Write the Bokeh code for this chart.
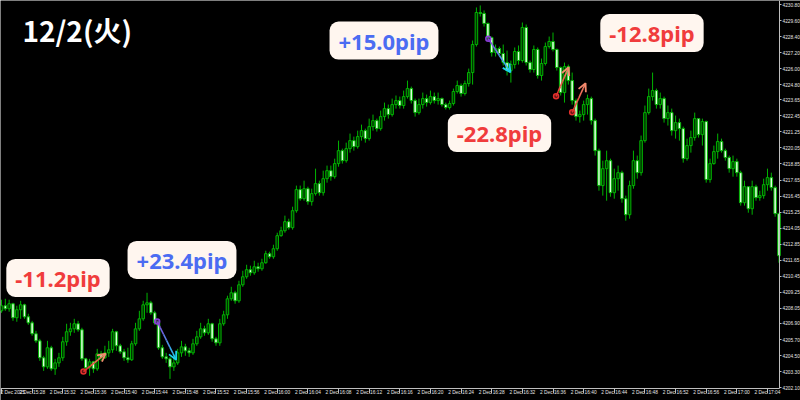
import numpy as np
from bokeh.plotting import figure
from bokeh.models import (ColumnDataSource, FixedTicker, Label, Arrow, OpenHead,
                          Range1d, PrintfTickFormatter, LinearAxis)
from bokeh.embed import file_html
from bokeh.resources import INLINE

# ---------------- data (30-second candles, 2 Dec 2025 15:24 - 17:05) ----------------
first_open = 4207.85
close = [4208.23, 4208.00, 4208.38, 4207.33, 4207.93, 4208.30, 4207.40, 4206.95, 4206.13, 4205.60,
         4204.33, 4203.65, 4205.08, 4203.50, 4203.95, 4204.33, 4205.53, 4206.28, 4206.50, 4206.88,
         4206.43, 4204.25, 4203.58, 4204.03, 4203.50, 4204.63, 4204.33, 4204.70, 4204.93, 4206.28,
         4205.23, 4204.78, 4204.33, 4204.18, 4205.38, 4206.50, 4207.25, 4208.30, 4208.45, 4207.70,
         4206.95, 4205.08, 4204.40, 4204.25, 4203.65, 4203.95, 4204.70, 4205.15, 4204.85, 4204.70,
         4205.38, 4205.90, 4206.50, 4206.20, 4206.88, 4205.75, 4205.45, 4206.88, 4207.55, 4208.75,
         4209.20, 4208.60, 4209.80, 4210.40, 4210.93, 4210.70, 4211.15, 4211.00, 4211.45, 4212.13,
         4211.90, 4212.50, 4213.48, 4213.85, 4214.53, 4214.08, 4215.35, 4216.93, 4216.25, 4217.00,
         4216.03, 4216.63, 4217.38, 4216.70, 4217.75, 4218.35, 4217.90, 4218.88, 4219.85, 4219.10,
         4220.00, 4220.60, 4220.15, 4220.90, 4221.35, 4220.75, 4221.65, 4222.10, 4221.50, 4222.40,
         4223.00, 4222.55, 4223.30, 4223.60, 4223.23, 4223.90, 4224.50, 4223.60, 4222.70, 4223.30,
         4223.75, 4223.45, 4223.90, 4223.60, 4223.75, 4223.30, 4223.08, 4223.38, 4224.28, 4224.73,
         4224.13, 4224.88, 4225.70, 4227.80, 4230.20, 4230.13, 4229.38, 4228.33, 4227.20, 4227.50,
         4227.13, 4226.45, 4225.85, 4226.30, 4227.28, 4226.60, 4229.08, 4226.45, 4225.93, 4227.43,
         4225.48, 4226.38, 4227.65, 4228.03, 4227.43, 4226.08, 4224.20, 4226.15, 4225.10, 4223.60,
         4222.40, 4222.55, 4223.30, 4223.75, 4222.10, 4219.85, 4217.23, 4218.50, 4219.10, 4216.70,
         4217.75, 4218.20, 4216.25, 4215.05, 4217.23, 4219.10, 4218.20, 4220.60, 4222.70, 4223.90,
         4224.35, 4223.30, 4223.75, 4222.25, 4222.70, 4221.35, 4221.95, 4221.50, 4219.25, 4220.23,
         4220.83, 4222.25, 4221.05, 4222.03, 4217.68, 4218.88, 4219.78, 4220.53, 4219.85, 4219.33,
         4218.50, 4219.03, 4218.20, 4215.95, 4217.15, 4215.50, 4217.15, 4216.33, 4216.48, 4217.30,
         4217.83, 4217.08, 4215.13, 4211.98]
high = [4208.68, 4208.75, 4208.68, 4208.45, 4208.23, 4208.60, 4208.38, 4207.63, 4207.10, 4206.35,
        4205.75, 4204.48, 4205.60, 4205.23, 4204.25, 4204.70, 4205.90, 4206.88, 4206.95, 4207.25,
        4207.10, 4206.58, 4204.33, 4204.25, 4204.10, 4205.00, 4204.85, 4205.23, 4205.60, 4206.50,
        4206.35, 4205.38, 4205.00, 4205.08, 4205.60, 4206.95, 4207.85, 4208.60, 4209.20, 4208.60,
        4207.85, 4207.10, 4205.30, 4204.70, 4204.40, 4204.48, 4205.00, 4205.60, 4205.38, 4205.08,
        4205.75, 4206.35, 4206.95, 4206.73, 4207.25, 4206.95, 4205.90, 4207.25, 4207.85, 4208.98,
        4209.65, 4209.35, 4210.10, 4210.85, 4211.30, 4211.23, 4211.60, 4211.45, 4211.75, 4212.35,
        4212.28, 4212.80, 4213.70, 4214.15, 4214.98, 4214.75, 4215.65, 4217.23, 4217.23, 4217.60,
        4217.15, 4217.00, 4218.50, 4217.60, 4218.35, 4218.73, 4218.73, 4219.25, 4220.60, 4220.00,
        4220.45, 4221.13, 4220.90, 4221.35, 4221.80, 4221.50, 4222.25, 4222.55, 4222.25, 4222.85,
        4223.45, 4223.30, 4223.75, 4223.98, 4223.90, 4224.35, 4225.10, 4224.65, 4223.75, 4223.75,
        4224.20, 4224.05, 4224.35, 4224.20, 4224.20, 4223.83, 4223.45, 4223.60, 4224.50, 4225.10,
        4224.88, 4225.10, 4226.00, 4228.10, 4230.58, 4230.73, 4230.35, 4229.45, 4228.40, 4227.80,
        4227.65, 4227.80, 4227.35, 4226.60, 4227.58, 4227.73, 4229.45, 4229.30, 4226.60, 4227.73,
        4227.58, 4226.75, 4227.95, 4228.40, 4228.70, 4227.50, 4226.15, 4226.45, 4226.30, 4225.70,
        4223.75, 4222.85, 4223.60, 4224.05, 4223.90, 4222.25, 4220.00, 4219.10, 4219.85, 4219.25,
        4218.50, 4218.73, 4218.35, 4216.48, 4217.60, 4219.85, 4219.48, 4220.98, 4223.23, 4224.50,
        4225.70, 4224.50, 4224.20, 4223.90, 4223.23, 4223.00, 4222.48, 4222.25, 4221.65, 4220.75,
        4221.35, 4222.70, 4221.95, 4222.25, 4222.10, 4219.25, 4220.23, 4221.13, 4220.75, 4220.00,
        4219.48, 4219.48, 4219.25, 4218.35, 4217.60, 4217.15, 4217.60, 4217.30, 4216.85, 4217.75,
        4218.50, 4218.20, 4217.23, 4215.20]
low = [4207.70, 4207.85, 4207.78, 4207.10, 4207.03, 4207.25, 4207.25, 4206.80, 4205.98, 4205.45,
       4204.10, 4203.35, 4203.50, 4203.35, 4203.05, 4203.65, 4204.10, 4205.23, 4205.98, 4206.20,
       4206.28, 4204.10, 4203.35, 4202.98, 4203.20, 4203.35, 4204.10, 4204.25, 4204.40, 4204.70,
       4204.85, 4204.63, 4204.10, 4203.95, 4204.10, 4205.23, 4206.35, 4207.10, 4207.70, 4207.55,
       4206.80, 4204.93, 4204.25, 4203.95, 4202.75, 4203.35, 4203.80, 4204.40, 4204.48, 4204.40,
       4204.55, 4205.23, 4205.75, 4205.98, 4206.05, 4205.53, 4205.23, 4205.23, 4206.73, 4207.25,
       4208.60, 4208.38, 4208.45, 4209.65, 4210.25, 4210.48, 4210.55, 4210.78, 4210.85, 4211.38,
       4211.75, 4211.75, 4212.35, 4213.40, 4213.70, 4213.93, 4213.93, 4215.20, 4216.10, 4216.10,
       4215.80, 4215.73, 4216.48, 4216.48, 4216.48, 4217.45, 4217.60, 4217.75, 4218.65, 4218.88,
       4218.95, 4219.70, 4219.85, 4220.00, 4220.60, 4220.45, 4220.60, 4221.35, 4221.28, 4221.35,
       4222.10, 4222.25, 4222.40, 4223.00, 4223.00, 4223.00, 4223.75, 4223.38, 4222.40, 4222.55,
       4223.00, 4223.15, 4223.30, 4223.38, 4223.30, 4223.15, 4222.93, 4222.93, 4223.23, 4224.13,
       4223.90, 4223.98, 4224.65, 4224.80, 4227.65, 4229.90, 4229.15, 4228.10, 4226.90, 4226.90,
       4226.90, 4226.23, 4225.48, 4224.95, 4226.00, 4226.30, 4226.45, 4226.23, 4225.70, 4225.70,
       4225.25, 4225.10, 4226.23, 4227.50, 4227.28, 4225.85, 4223.98, 4223.45, 4224.80, 4223.30,
       4222.10, 4221.95, 4222.10, 4222.55, 4221.80, 4219.48, 4216.85, 4216.48, 4216.10, 4216.40,
       4216.25, 4216.85, 4215.95, 4214.60, 4214.75, 4217.00, 4217.75, 4217.98, 4220.45, 4222.55,
       4223.60, 4223.00, 4223.00, 4221.95, 4221.73, 4220.98, 4220.75, 4220.60, 4218.95, 4219.10,
       4219.70, 4220.60, 4220.83, 4220.23, 4217.45, 4217.45, 4218.80, 4219.25, 4219.70, 4219.10,
       4218.20, 4217.90, 4217.90, 4215.73, 4215.73, 4215.20, 4215.05, 4216.10, 4216.10, 4216.25,
       4216.85, 4216.85, 4214.90, 4211.45]

time_labels = ["2 Dec 2025", "2 Dec 15:28", "2 Dec 15:32", "2 Dec 15:36", "2 Dec 15:40",
               "2 Dec 15:44", "2 Dec 15:48", "2 Dec 15:52", "2 Dec 15:56", "2 Dec 16:00",
               "2 Dec 16:04", "2 Dec 16:08", "2 Dec 16:12", "2 Dec 16:16", "2 Dec 16:20",
               "2 Dec 16:24", "2 Dec 16:28", "2 Dec 16:32", "2 Dec 16:36", "2 Dec 16:40",
               "2 Dec 16:44", "2 Dec 16:48", "2 Dec 16:52", "2 Dec 16:56", "2 Dec 17:00",
               "2 Dec 17:04"]
bars_per_label = 8
price_ticks = [4230.80, 4229.60, 4228.40, 4227.20, 4226.00, 4224.80, 4223.65, 4222.45, 4221.25,
               4220.05, 4218.85, 4217.65, 4216.45, 4215.25, 4214.05, 4212.85, 4211.65, 4210.45,
               4209.25, 4208.05, 4206.90, 4205.70, 4204.50, 4203.30, 4202.10]

title_text = "12/2(火)"
title_x, title_y = 5.48, 4228.88
pip_text = ["-11.2pip", "+23.4pip", "+15.0pip", "-22.8pip", "-12.8pip"]
pip_x = [14.75, 47.13, 99.87, 130.03, 169.84]
pip_y = [4210.31, 4211.66, 4228.10, 4221.17, 4228.66]
pip_kind = ["down", "up", "up", "down", "down"]

arrow_x0 = [21.4, 40.65, 127.1, 144.8, 149.0]
arrow_y0 = [4203.30, 4207.05, 4228.23, 4223.92, 4222.72]
arrow_x1 = [27.2, 45.6, 132.9, 148.1, 152.5]
arrow_y1 = [4204.65, 4204.18, 4225.72, 4226.10, 4224.90]
arrow_kind = ["red", "blue", "blue", "red", "red"]

# ---------------- styles ----------------
BG = "#000000"
CANDLE_LINE = "#00B400"
BULL_FILL = "#003400"
BEAR_FILL = "#DCFFDC"
AXIS_COLOR = "#BEBEBE"
LABEL_COLOR = "#E6E6E6"
AXIS_FONT = "Liberation Sans"
AXIS_FONT_SIZE = "4.8px"
RED_TXT = "#F03C3C"
BLUE_TXT = "#4B6CF2"
BOX_FILL = "#FFF6EF"
ARROW_COLORS = {"red": ("#E3302C", "#F28A6E"), "blue": ("#8A3CD8", "#1ED0F0")}

# chart frame (price area) and full canvas extents in data units
X_FIRST, X_LAST, X_CANVAS_END = -0.26, 203.13, 208.62
P_BOTTOM, P_TOP, P_CANVAS_BOTTOM = 4202.03, 4231.10, 4201.13

# ---------------- figure ----------------
n = len(close)
x = np.arange(n)
o = np.array([first_open] + close[:-1])
c = np.array(close)
h = np.maximum(np.array(high), np.maximum(o, c))
l = np.minimum(np.array(low), np.minimum(o, c))
bull = c >= o

src = ColumnDataSource(dict(
    x=x, top=np.maximum(o, c), bottom=np.minimum(o, c), high=h, low=l,
    fill=np.where(bull, BULL_FILL, BEAR_FILL)))

p = figure(width=800, height=400, output_backend="svg", toolbar_location=None,
           x_range=Range1d(X_FIRST, X_CANVAS_END), y_range=Range1d(P_CANVAS_BOTTOM, P_TOP),
           x_axis_location=None, y_axis_location=None,
           background_fill_color=BG, border_fill_color=BG, min_border=0)
p.outline_line_color = None
p.grid.visible = False

p.segment(x0="x", y0="low", x1="x", y1="high", source=src, line_color=CANDLE_LINE, line_width=1)
p.vbar(x="x", width=0.66, top="top", bottom="bottom", source=src,
       fill_color="fill", line_color=CANDLE_LINE, line_width=1)

# price axis (right edge of chart)
ya = LinearAxis(fixed_location=X_LAST, bounds=(P_BOTTOM, P_TOP),
                ticker=FixedTicker(ticks=price_ticks),
                formatter=PrintfTickFormatter(format="%.2f"))
ya.major_label_text_font_size = AXIS_FONT_SIZE
ya.major_label_text_font = AXIS_FONT
ya.major_label_text_color = LABEL_COLOR
ya.major_tick_out = 2
ya.major_tick_in = 0
ya.minor_tick_out = 0
ya.minor_tick_in = 0
ya.major_label_standoff = 1
ya.axis_line_color = AXIS_COLOR
ya.major_tick_line_color = AXIS_COLOR
p.add_layout(ya, "right")

# time axis (bottom of chart)
tick_pos = [i * bars_per_label for i in range(len(time_labels))]
xa = LinearAxis(fixed_location=P_BOTTOM, bounds=(X_FIRST, X_LAST),
                ticker=FixedTicker(ticks=tick_pos))
xa.major_label_overrides = {tp: tl for tp, tl in zip(tick_pos, time_labels)}
xa.major_label_text_align = "left"
xa.major_label_text_font_size = AXIS_FONT_SIZE
xa.major_label_text_font = AXIS_FONT
xa.major_label_text_color = LABEL_COLOR
xa.major_label_standoff = -3
xa.major_tick_out = 5
xa.major_tick_in = 0
xa.minor_tick_out = 0
xa.minor_tick_in = 0
xa.axis_line_color = AXIS_COLOR
xa.major_tick_line_color = AXIS_COLOR
p.add_layout(xa, "below")

# arrows with colour gradient
for x0, y0, x1, y1, kind in zip(arrow_x0, arrow_y0, arrow_x1, arrow_y1, arrow_kind):
    ca, cb = ARROW_COLORS[kind]
    ra = np.array([int(ca[k:k + 2], 16) for k in (1, 3, 5)])
    rb = np.array([int(cb[k:k + 2], 16) for k in (1, 3, 5)])
    steps = 6
    for s in range(steps):
        t0, t1 = s / steps, (s + 1) / steps
        col = ra + (rb - ra) * (s + 0.5) / steps
        hexc = "#%02x%02x%02x" % tuple(int(v) for v in col)
        p.segment(x0=[x0 + (x1 - x0) * t0], y0=[y0 + (y1 - y0) * t0],
                  x1=[x0 + (x1 - x0) * t1], y1=[y0 + (y1 - y0) * t1],
                  line_color=hexc, line_width=1.6)
    p.add_layout(Arrow(end=OpenHead(size=8, line_color=cb, line_width=1.8),
                       x_start=x0, y_start=y0, x_end=x1, y_end=y1, line_alpha=0))
    p.scatter([x0], [y0], size=5, marker="circle", line_color=ca, fill_color=ca,
              fill_alpha=0.4, line_width=1.5)

# pip labels
for tx, px_, py_, kind in zip(pip_text, pip_x, pip_y, pip_kind):
    p.add_layout(Label(x=px_, y=py_, text=tx, text_align="center", text_baseline="middle",
                       text_font="Noto Sans", text_font_style="bold",
                       text_font_size="22px",
                       text_color=RED_TXT if kind == "down" else BLUE_TXT,
                       background_fill_color=BOX_FILL, border_radius=9,
                       padding=dict(left=9, right=9, top=4, bottom=4)))

# title
p.add_layout(Label(x=title_x, y=title_y, text=title_text, text_align="left",
                   text_baseline="middle", text_font="Noto Sans CJK JP",
                   text_font_style="bold", text_font_size="28px", text_color="#FFFFFF"))

open("out.html", "w").write(file_html(p, INLINE))
